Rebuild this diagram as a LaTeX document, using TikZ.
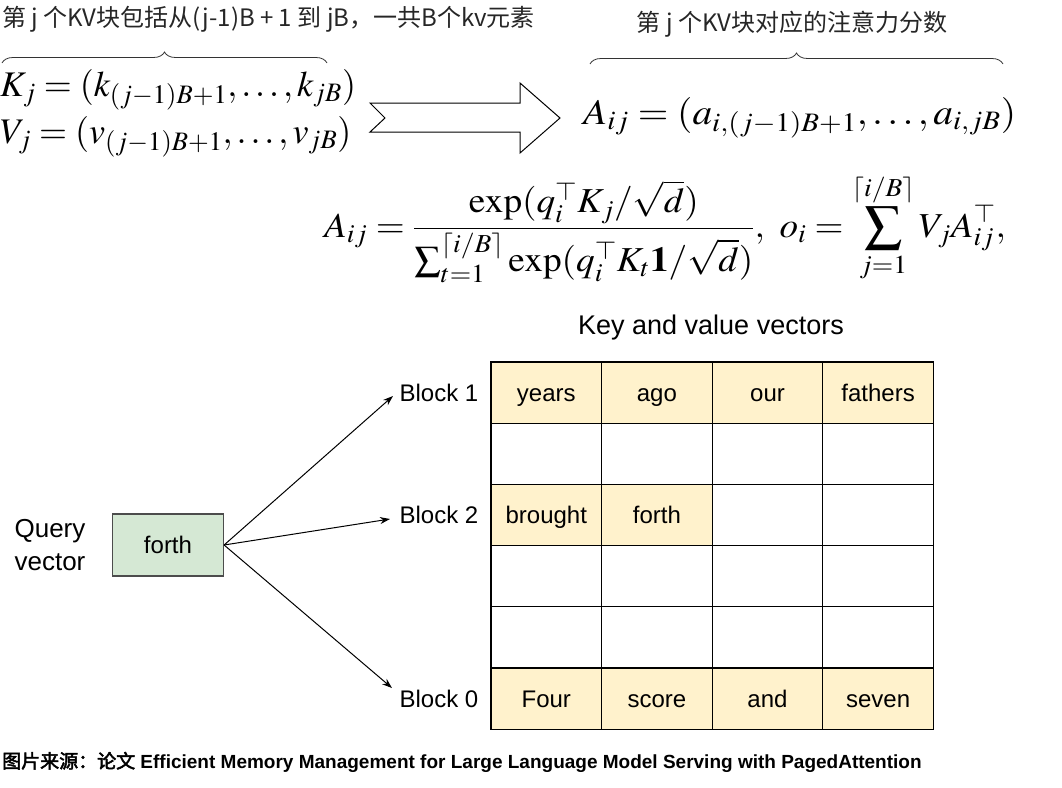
\documentclass[tikz,border=0pt]{standalone}
\usepackage{mathptmx}
\usepackage[no-math]{fontspec}
\setmainfont{Liberation Sans}
\newfontfamily\cjk{Noto Sans CJK SC}[AutoFakeBold=2.5]
\usetikzlibrary{arrows.meta,decorations.pathreplacing}
\definecolor{kvyellow}{HTML}{FFF2CC}
\definecolor{qgreen}{HTML}{D5E8D4}
\tikzset{
  cell/.style={draw=black, line width=1.3pt, minimum width=110.6pt, minimum height=61.2pt, inner sep=0pt, text height=17pt, text depth=0pt, font=\fontsize{24}{28}\selectfont},
  ycell/.style={cell, fill=kvyellow},
  wcell/.style={cell, fill=white},
  lbl/.style={font=\fontsize{24}{28}\selectfont, inner sep=0pt, text height=17pt, text depth=0pt},
  qarrow/.style={line width=1pt, -{Stealth[length=10pt,width=7pt]}},
  bracestyle/.style={draw=black!80, line width=0.8pt, decorate, decoration={brace, amplitude=11pt}},
  mathbig/.style={font=\fontsize{36}{42}\selectfont, inner sep=0pt},
  cjktext/.style={font=\cjk\fontsize{24}{28}\selectfont, inner sep=0pt, text=black!85}
}
\begin{document}
\begin{tikzpicture}[x=1pt,y=-1pt]
\useasboundingbox (0,0) rectangle (1062,787);
% top texts
\node[cjktext, anchor=west] (t1) at (2,19) {第 j 个KV块包括从(j-1)B + 1 到 jB，一共B个kv元素};
\node[cjktext] (t2) at (792,24) {第 j 个KV块对应的注意力分数};
\draw[bracestyle] (2,63) -- (327,63);
\draw[bracestyle] (590,64) -- (1003,64);
% equations
\node[mathbig, anchor=west] (kj) at (0,90) {$K_j = (k_{(j-1)B+1},\ldots,k_{jB})$};
\node[mathbig, anchor=west] (vj) at (0,137) {$V_j = (v_{(j-1)B+1},\ldots,v_{jB})$};
\node[mathbig, anchor=west] (aij) at (583,118) {\scalebox{1.094}[1]{$A_{ij} = (a_{i,(j-1)B+1},\ldots,a_{i,jB})$}};
\draw[line width=1pt] (370,103) -- (520,103) -- (520,83) -- (560,118) -- (520,153) -- (520,132) -- (370,132) -- (385,118) -- cycle;
\node[font=\fontsize{35}{42}\selectfont, inner sep=0pt] (form) at (665,228) {\scalebox{1.065}[1]{$\displaystyle A_{ij} = \frac{\exp(q_i^\top K_j/\sqrt{d})}{\sum_{t=1}^{\lceil i/B\rceil}\exp(q_i^\top K_t \mathbf{1}/\sqrt{d})},\ o_i = \sum_{j=1}^{\lceil i/B\rceil} V_j A_{ij}^\top,$}};
% grid
\node[font=\fontsize{27}{32}\selectfont, inner sep=0pt] (title) at (711,328) {Key and value vectors};
\foreach \r/\c/\s/\t in {0/0/ycell/years,0/1/ycell/ago,0/2/ycell/our,0/3/ycell/fathers,
  1/0/wcell/,1/1/wcell/,1/2/wcell/,1/3/wcell/,
  2/0/ycell/brought,2/1/ycell/forth,2/2/wcell/,2/3/wcell/,
  3/0/wcell/,3/1/wcell/,3/2/wcell/,3/3/wcell/,
  4/0/wcell/,4/1/wcell/,4/2/wcell/,4/3/wcell/,
  5/0/ycell/Four,5/1/ycell/score,5/2/ycell/and,5/3/ycell/seven}
  \node[\s] (c-\r-\c) at ({546.3+110.6*\c},{392.6+61.2*\r}) {\t};
% block labels
\node[lbl] (b1) at (439,393) {Block 1};
\node[lbl] (b2) at (439,515) {Block 2};
\node[lbl] (b0) at (439,699) {Block 0};
\coordinate (e1) at (393,396);
\coordinate (e2) at (390,519);
\coordinate (e0) at (392,688);
% query
\node[draw=black!70, line width=1.2pt, fill=qgreen, minimum width=111pt, minimum height=62pt, text height=17pt, text depth=0pt, font=\fontsize{24}{28}\selectfont] (q) at (168,545) {forth};
\node[font=\fontsize{26}{33}\selectfont, align=center, inner sep=0pt] (ql) at (50,545) {Query\\vector};
\draw[qarrow] (q.east) -- (e1);
\draw[qarrow] (q.east) -- (e2);
\draw[qarrow] (q.east) -- (e0);
% footer
\node[anchor=west, inner sep=0pt, font=\fontsize{19}{22}\selectfont\bfseries] (src) at (2,762) {{\cjk 图片来源：论文} Efficient Memory Management for Large Language Model Serving with PagedAttention};
\end{tikzpicture}
\end{document}
